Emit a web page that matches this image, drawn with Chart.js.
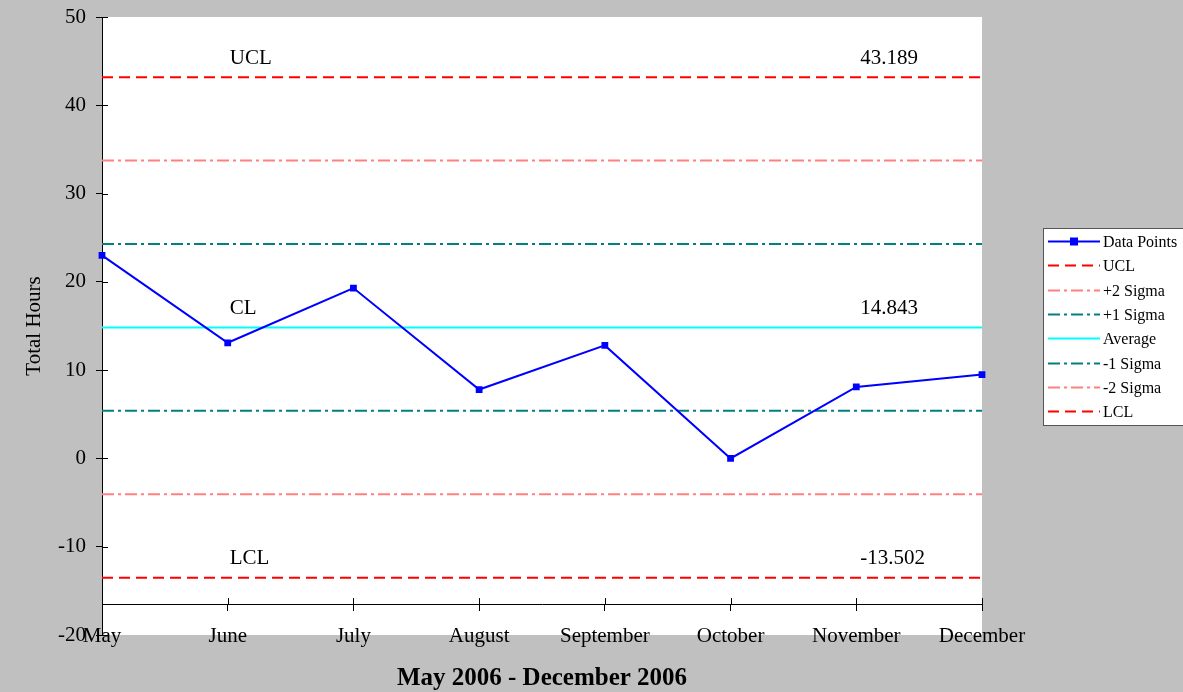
<!DOCTYPE html>
<html>
<head>
<meta charset="utf-8">
<script src="https://cdn.jsdelivr.net/npm/chart.js"></script>
<style>
  html, body { margin: 0; padding: 0; background: #c0c0c0; }
  #caixa { width: 1183px; height: 692px; }
</style>
</head>
<body>
<div id="caixa"><canvas id="graficoControle"></canvas></div>
<script>
const meses = ['May', 'June', 'July', 'August', 'September', 'October', 'November', 'December'];
const pontos = [23.0, 13.1, 19.3, 7.8, 12.8, 0.0, 8.1, 9.5];
const ucl = [43.189, 43.189, 43.189, 43.189, 43.189, 43.189, 43.189, 43.189];
const mais2Sigma = [33.740, 33.740, 33.740, 33.740, 33.740, 33.740, 33.740, 33.740];
const mais1Sigma = [24.292, 24.292, 24.292, 24.292, 24.292, 24.292, 24.292, 24.292];
const media = [14.843, 14.843, 14.843, 14.843, 14.843, 14.843, 14.843, 14.843];
const menos1Sigma = [5.394, 5.394, 5.394, 5.394, 5.394, 5.394, 5.394, 5.394];
const menos2Sigma = [-4.054, -4.054, -4.054, -4.054, -4.054, -4.054, -4.054, -4.054];
const lcl = [-13.502, -13.502, -13.502, -13.502, -13.502, -13.502, -13.502, -13.502];
const yMin = -20, yMax = 50, yPasso = 10;
const eixoXCruza = -16.5;

const fonte = 'Liberation Serif, Times New Roman, serif';

function linhaRef(label, dados, cor, traco) {
  return {
    label: label,
    data: dados,
    borderColor: cor,
    backgroundColor: cor,
    borderWidth: 2,
    borderDash: traco,
    pointRadius: 0,
    fill: false,
    tension: 0
  };
}

// fundo cinza e area branca
const fundo = {
  id: 'fundo',
  beforeDraw(chart) {
    const { ctx, chartArea } = chart;
    ctx.save();
    ctx.fillStyle = '#c0c0c0';
    ctx.fillRect(0, 0, chart.width, chart.height);
    ctx.fillStyle = '#ffffff';
    ctx.fillRect(chartArea.left, chartArea.top, chartArea.right - chartArea.left, chartArea.bottom - chartArea.top);
    ctx.restore();
  }
};

// parte interna das marcas dos eixos (marcas cruzadas)
const marcasCruzadas = {
  id: 'marcasCruzadas',
  afterDraw(chart) {
    const { ctx, scales } = chart;
    const x = scales.x, y = scales.y;
    const yEixo = y.getPixelForValue(eixoXCruza);
    ctx.save();
    ctx.strokeStyle = '#000';
    ctx.lineWidth = 1;
    ctx.beginPath();
    y.ticks.forEach(t => {
      const py = Math.round(y.getPixelForValue(t.value)) + 0.5;
      ctx.moveTo(y.right, py);
      ctx.lineTo(y.right + 6, py);
    });
    meses.forEach((m, i) => {
      const px = Math.round(x.getPixelForValue(i)) + 0.5;
      ctx.moveTo(px, yEixo);
      ctx.lineTo(px, yEixo - 6);
    });
    ctx.stroke();
    ctx.restore();
  }
};

// rotulos UCL / CL / LCL
const rotulos = {
  id: 'rotulos',
  afterDatasetsDraw(chart) {
    const { ctx, scales } = chart;
    const itens = [['UCL', ucl[0]], ['CL', media[0]], ['LCL', lcl[0]]];
    ctx.save();
    ctx.fillStyle = '#000';
    ctx.font = '21px ' + fonte;
    ctx.textAlign = 'left';
    ctx.textBaseline = 'middle';
    itens.forEach(([nome, valor]) => {
      const py = scales.y.getPixelForValue(valor) - 19;
      ctx.fillText(nome, scales.x.getPixelForValue(1) + 2, py);
      ctx.fillText(valor.toFixed(3), scales.x.getPixelForValue(6) + 4, py);
    });
    ctx.restore();
  }
};

// legenda no estilo do Excel
const legenda = {
  id: 'legenda',
  afterDraw(chart) {
    const { ctx } = chart;
    const x0 = 1043, y0 = 228, larg = 150, alt = 197;
    ctx.save();
    ctx.fillStyle = '#ffffff';
    ctx.fillRect(x0, y0, larg, alt);
    ctx.strokeStyle = '#555';
    ctx.lineWidth = 1;
    ctx.strokeRect(x0 + 0.5, y0 + 0.5, larg, alt);
    ctx.font = '16px ' + fonte;
    ctx.textBaseline = 'middle';
    chart.data.datasets.forEach((ds, i) => {
      const py = Math.round(241 + i * 24.3) + 0.5;
      ctx.strokeStyle = ds.borderColor;
      ctx.lineWidth = ds.borderWidth;
      ctx.setLineDash(ds.borderDash || []);
      ctx.beginPath();
      ctx.moveTo(1048, py);
      ctx.lineTo(1100, py);
      ctx.stroke();
      ctx.setLineDash([]);
      if (ds.pointRadius > 0) {
        ctx.fillStyle = ds.backgroundColor;
        ctx.fillRect(1070, py - 4, 8, 8);
      }
      ctx.fillStyle = '#000';
      ctx.fillText(ds.label, 1103, py + 1);
    });
    ctx.restore();
  }
};

const ctx = document.getElementById('graficoControle').getContext('2d');

const chart = new Chart(ctx, {
  type: 'line',
  data: {
    labels: meses,
    datasets: [
      {
        label: 'Data Points',
        data: pontos,
        borderColor: '#0000ff',
        backgroundColor: '#0000ff',
        borderWidth: 2,
        pointStyle: 'rect',
        pointRadius: 4.8,
        pointBorderWidth: 0,
        fill: false,
        tension: 0
      },
      linhaRef('UCL', ucl, '#ff0000', [11, 6]),
      linhaRef('+2 Sigma', mais2Sigma, '#ff8080', [12, 4, 3, 4]),
      linhaRef('+1 Sigma', mais1Sigma, '#008080', [12, 4, 3, 4]),
      linhaRef('Average', media, '#00ffff', []),
      linhaRef('-1 Sigma', menos1Sigma, '#008080', [12, 4, 3, 4]),
      linhaRef('-2 Sigma', menos2Sigma, '#ff8080', [12, 4, 3, 4]),
      linhaRef('LCL', lcl, '#ff0000', [11, 6])
    ]
  },
  options: {
    responsive: true,
    maintainAspectRatio: false,
    animation: false,
    layout: { padding: { top: 17, right: 201, bottom: 57, left: 0 } },
    plugins: {
      legend: { display: false },
      tooltip: { enabled: false }
    },
    scales: {
      x: {
        position: { y: eixoXCruza },
        offset: false,
        grid: { drawOnChartArea: false, drawTicks: true, tickLength: 6, color: '#000' },
        border: { color: '#000', width: 1 },
        ticks: {
          color: '#000',
          font: { family: fonte, size: 21 },
          padding: 14,
          maxRotation: 0,
          autoSkip: false
        },
        title: {
          display: true,
          text: 'May 2006 - December 2006',
          color: '#000',
          font: { family: fonte, size: 25, weight: 'bold' },
          padding: { top: 0, bottom: 0 }
        }
      },
      y: {
        min: yMin,
        max: yMax,
        afterFit(scale) {
          scale.width = 102;
          scale.paddingTop = 0;
          scale.paddingBottom = 0;
        },
        grid: { drawOnChartArea: false, drawTicks: true, tickLength: 6, color: '#000' },
        border: { color: '#000', width: 1 },
        ticks: {
          stepSize: yPasso,
          color: '#000',
          font: { family: fonte, size: 21 },
          padding: 10
        },
        title: {
          display: true,
          text: 'Total Hours',
          color: '#000',
          font: { family: fonte, size: 21 },
          padding: { top: 22, bottom: 0 }
        }
      }
    }
  },
  plugins: [fundo, marcasCruzadas, rotulos, legenda]
});
</script>
</body>
</html>
